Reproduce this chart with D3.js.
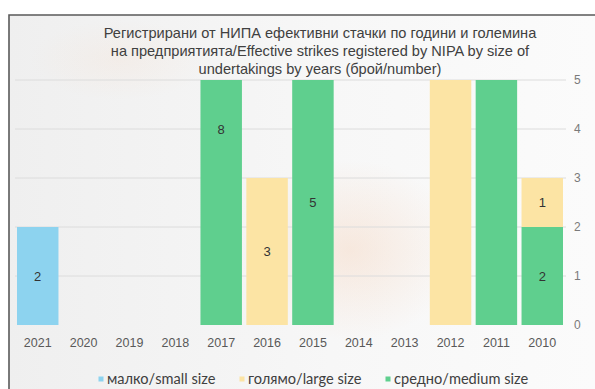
<!DOCTYPE html>
<html>
<head>
<meta charset="utf-8">
<script src="https://cdn.jsdelivr.net/npm/d3@7"></script>
<style>
  html, body { margin: 0; padding: 0; background: #ffffff; }
  svg { display: block; }
</style>
</head>
<body>
<svg id="chart" width="595" height="389"></svg>
<script>
// Effective strikes registered by NIPA, by size of undertaking and year
const years  = ["2021","2020","2019","2018","2017","2016","2015","2014","2013","2012","2011","2010"];
const small  = [2, 0, 0, 0, 0, 0, 0, 0, 0, 0, 0, 0];
const medium = [0, 0, 0, 0, 8, 0, 5, 0, 0, 0, 13, 2];
const large  = [0, 0, 0, 0, 0, 3, 0, 0, 0, 12, 0, 1];
const yTicks = [0, 1, 2, 3, 4, 5];

const titleLines = [
  "Регистрирани от НИПА ефективни стачки по години и големина",
  "на предприятията/Effective strikes registered by NIPA by size of",
  "undertakings by years (брой/number)"
];

const seriesInfo = [
  { key: "small",  label: "малко/small size",   color: "#8dd3ef" },
  { key: "medium", label: "средно/medium size", color: "#5fcf8e" },
  { key: "large",  label: "голямо/large size",  color: "#fce4a4" }
];
const legendOrder = ["small", "large", "medium"];

const rows = years.map((y, i) => ({ year: y, small: small[i], medium: medium[i], large: large[i] }));

const svg = d3.select("#chart");
const W = 595, H = 389;

// frame and soft background
const defs = svg.append("defs");
const bgGrad = defs.append("linearGradient").attr("id", "bg").attr("x1", 0).attr("x2", 1).attr("y1", 0).attr("y2", 0);
bgGrad.append("stop").attr("offset", "0%").attr("stop-color", "#efefef");
bgGrad.append("stop").attr("offset", "55%").attr("stop-color", "#f7f7f7");
bgGrad.append("stop").attr("offset", "100%").attr("stop-color", "#fbfbfb");
const warm = defs.append("radialGradient").attr("id", "warm").attr("cx", 0.5).attr("cy", 0.5).attr("r", 0.5);
warm.append("stop").attr("offset", "0%").attr("stop-color", "#f6d9c4").attr("stop-opacity", 0.5);
warm.append("stop").attr("offset", "100%").attr("stop-color", "#f6d9c4").attr("stop-opacity", 0);

svg.append("rect").attr("x", 9).attr("y", 15).attr("width", W - 9).attr("height", H - 15).attr("fill", "url(#bg)");
svg.append("ellipse").attr("cx", 350).attr("cy", 250).attr("rx", 110).attr("ry", 90).attr("fill", "url(#warm)");
svg.append("ellipse").attr("cx", 120).attr("cy", 60).attr("rx", 90).attr("ry", 40).attr("fill", "url(#warm)").attr("opacity", 0.4);

svg.append("path")
  .attr("d", `M${W},15 H9 V${H}`)
  .attr("fill", "none").attr("stroke", "#5a5a5a").attr("stroke-width", 1.6);

// scales
const x = d3.scaleBand().domain(years).range([14.8, 565.2]).paddingInner(0.096).paddingOuter(0.048);
const y = d3.scaleLinear().domain([0, 5]).range([325, 80]);
const yMax = y.domain()[1];

// gridlines
svg.append("g").selectAll("line").data(yTicks.filter(t => t > 0)).join("line")
  .attr("x1", 15).attr("x2", 566)
  .attr("y1", d => y(d)).attr("y2", d => y(d))
  .attr("stroke", "#dcdcdc").attr("stroke-width", 1);

// bars clipped to the value range
defs.append("clipPath").attr("id", "plotClip").append("rect")
  .attr("x", 0).attr("y", y(5)).attr("width", W).attr("height", y(0) - y(5));

const stack = d3.stack().keys(seriesInfo.map(s => s.key));
const stacked = stack(rows);
const colorOf = Object.fromEntries(seriesInfo.map(s => [s.key, s.color]));

const plot = svg.append("g").attr("clip-path", "url(#plotClip)");
const labels = svg.append("g");
stacked.forEach(layer => {
  const segs = layer.filter(d => d[1] > d[0]);
  plot.append("g").attr("fill", colorOf[layer.key])
    .selectAll("rect").data(segs).join("rect")
    .attr("x", d => x(d.data.year))
    .attr("width", x.bandwidth())
    .attr("y", d => y(d[1]))
    .attr("height", d => y(d[0]) - y(d[1]));
  // value labels sit at the segment middle; those beyond the axis maximum are not shown
  labels.append("g").selectAll("text")
    .data(segs.filter(d => (d[0] + d[1]) / 2 <= yMax)).join("text")
    .attr("x", d => x(d.data.year) + x.bandwidth() / 2)
    .attr("y", d => y((d[0] + d[1]) / 2))
    .attr("dy", "0.35em")
    .attr("text-anchor", "middle")
    .attr("fill", "#333333")
    .attr("font-family", "Liberation Sans, Arial, sans-serif")
    .attr("font-size", 13)
    .text(d => d[1] - d[0]);
});

// year axis
const xAxis = svg.append("g").attr("transform", `translate(0,${y(0)})`)
  .call(d3.axisBottom(x).tickSize(0).tickPadding(13));
xAxis.select(".domain").remove();
xAxis.selectAll("text").attr("fill", "#595959").attr("font-size", 12.5).attr("font-family", "Liberation Sans, Arial, sans-serif");

// value axis on the right
const yAxis = svg.append("g").attr("transform", `translate(573,0)`)
  .call(d3.axisRight(y).tickValues(yTicks).tickSize(0).tickPadding(1).tickFormat(d3.format("d")));
yAxis.select(".domain").remove();
yAxis.selectAll("text").attr("fill", "#7a7a7a").attr("font-size", 12).attr("font-family", "Liberation Sans, Arial, sans-serif");

// title, one text per line
svg.append("g")
  .attr("fill", "#404040")
  .attr("font-family", "Liberation Sans, Arial, sans-serif")
  .attr("font-size", 14.6)
  .attr("text-anchor", "middle")
  .selectAll("text").data(titleLines).join("text")
  .attr("x", 320)
  .attr("y", (d, i) => 38 + i * 17.8)
  .text(d => d);

// legend
const legendPos = { small: 101, large: 242, medium: 388 };
const legend = svg.append("g").attr("font-family", "Lato, sans-serif").attr("font-size", 14.6).attr("fill", "#404040");
legendOrder.forEach(k => {
  const s = seriesInfo.find(v => v.key === k);
  legend.append("rect").attr("x", legendPos[k] - 2.5).attr("y", 376.5).attr("width", 5).attr("height", 5).attr("fill", s.color);
  legend.append("text").attr("x", legendPos[k] + 6).attr("y", 379).attr("dy", "0.35em").text(s.label);
});
</script>
</body>
</html>
